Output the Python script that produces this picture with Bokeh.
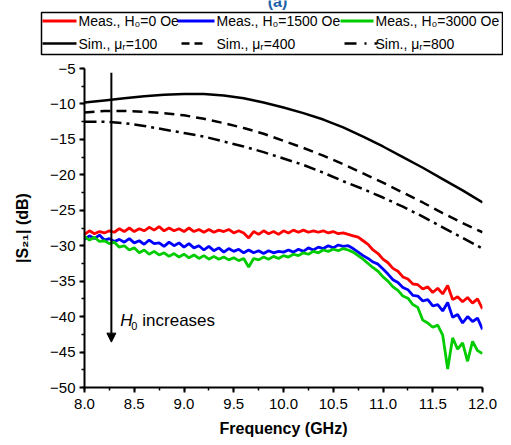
import numpy as np
from bokeh.plotting import figure
from bokeh.layouts import column
from bokeh.core.properties import value
from bokeh.models import (Range1d, SingleIntervalTicker, NumeralTickFormatter,
                          Arrow, NormalHead, Label)
from bokeh.embed import file_html
from bokeh.resources import INLINE

# ---------------- data ----------------
freq_meas = np.round(np.arange(8.0, 12.0001, 0.05), 2)
meas_0 = [-28.4, -27.9, -28.3, -28.0, -28.2, -27.9, -28.1, -27.6, -28.0, -27.5,
          -28.0, -27.6, -27.9, -27.4, -27.8, -27.3, -27.9, -27.5, -27.9, -27.6,
          -28.0, -27.5, -28.0, -27.7, -28.1, -27.7, -28.1, -27.8, -28.0, -27.7,
          -28.2, -27.9, -28.2, -28.9, -28.0, -28.4, -27.9, -28.3, -28.0, -28.4,
          -27.9, -28.2, -27.8, -28.1, -27.8, -28.1, -27.9, -28.1, -27.9, -28.2,
          -28.0, -28.3, -28.2, -28.4, -28.6, -28.8, -29.3, -29.8, -30.6, -31.1,
          -31.9, -32.4, -33.2, -33.6, -34.4, -34.7, -35.4, -35.5, -36.1, -35.8,
          -36.6, -36.0, -36.8, -35.6, -37.6, -37.2, -37.9, -37.3, -38.1, -37.5,
          -38.9]
meas_1500 = [-29.1, -28.6, -29.0, -28.5, -29.2, -29.0, -29.4, -29.1, -29.5, -29.0,
             -29.6, -29.3, -29.8, -29.2, -29.7, -29.6, -30.1, -29.5, -30.0, -29.6,
             -30.2, -29.7, -30.3, -30.0, -30.6, -30.1, -30.7, -30.3, -30.9, -30.4,
             -30.8, -30.5, -31.0, -30.6, -31.0, -30.7, -31.1, -30.7, -31.0, -30.8,
             -30.9, -30.6, -30.9, -30.5, -30.8, -30.3, -30.6, -30.2, -30.4, -30.0,
             -30.3, -29.9, -30.1, -30.0, -30.4, -30.9, -31.4, -31.8, -32.3, -32.6,
             -33.3, -34.0, -34.8, -35.2, -35.9, -36.2, -37.0, -37.1, -37.8, -37.6,
             -38.5, -38.3, -39.2, -38.0, -40.1, -39.7, -40.9, -40.0, -40.7, -40.2,
             -41.8]
meas_3000 = [-28.7, -29.2, -28.8, -29.4, -29.3, -29.7, -29.5, -30.2, -30.0, -30.6,
             -30.3, -31.0, -30.6, -31.2, -30.8, -31.3, -31.0, -31.5, -31.1, -31.6,
             -31.2, -31.7, -31.3, -31.8, -31.4, -31.9, -31.5, -31.9, -31.6, -32.0,
             -31.7, -32.1, -31.8, -33.0, -31.8, -32.0, -31.6, -31.9, -31.5, -31.8,
             -31.4, -31.6, -31.2, -31.4, -31.0, -31.2, -30.8, -31.0, -30.6, -30.8,
             -30.5, -30.7, -30.4, -30.6, -30.9, -31.4, -31.9, -32.5, -33.1, -33.6,
             -34.4, -35.0, -35.8, -36.3, -37.1, -37.4, -38.3, -38.7, -40.5, -40.9,
             -41.5, -41.2, -42.6, -47.4, -43.0, -44.6, -43.7, -46.3, -43.5, -44.8,
             -45.2]

freq_sim = np.round(np.arange(8.0, 12.0001, 0.2), 1)
sim_100 = [-9.8, -9.5, -9.2, -8.9, -8.7, -8.6, -8.6, -8.8, -9.2, -9.8,
           -10.5, -11.3, -12.2, -13.3, -14.6, -16.0, -17.5, -19.0, -20.6, -22.2,
           -23.9]
sim_400 = [-11.2, -11.0, -11.0, -11.1, -11.3, -11.6, -12.1, -12.7, -13.4, -14.2,
           -15.2, -16.2, -17.3, -18.5, -19.8, -21.1, -22.5, -23.9, -25.4, -26.8,
           -28.1]
sim_800 = [-12.5, -12.5, -12.7, -13.1, -13.6, -14.1, -14.6, -15.3, -16.0, -16.8,
           -17.7, -18.6, -19.7, -20.9, -22.0, -23.2, -24.5, -25.9, -27.4, -28.9,
           -30.4]

labels_meas = ["Meas., H\u2080=0 Oe", "Meas., H\u2080=1500 Oe", "Meas., H\u2080=3000 Oe"]
labels_sim = ["Sim., \u03bc\u1d63=100", "Sim., \u03bc\u1d63=400", "Sim., \u03bc\u1d63=800"]
panel_title = "(a)"

FONT = "Liberation Sans"
colors = ["#ff0000", "#0000ff", "#00cc00", "black", "black", "black"]
widths = [2.8, 2.8, 2.8, 2.5, 2.5, 2.5]
dashes = ["solid", "solid", "solid", "solid", "10 6", "12 5 3 5"]

# ---------------- main plot ----------------
p = figure(width=503, height=381, output_backend="svg", toolbar_location=None,
           x_range=Range1d(8.0, 12.0), y_range=Range1d(-50, -5),
           min_border_left=84, min_border_right=21, min_border_top=10,
           min_border_bottom=52)
p.frame_align = False
p.outline_line_color = None
p.grid.visible = False
p.background_fill_color = "white"
p.border_fill_color = "white"

series = [(freq_meas, meas_0), (freq_meas, meas_1500), (freq_meas, meas_3000),
          (freq_sim, sim_100), (freq_sim, sim_400), (freq_sim, sim_800)]
for (xs, ys), c, w, d in zip(series, colors, widths, dashes):
    p.line(xs, ys, line_color=c, line_width=w, line_dash=d)

p.xaxis.ticker = SingleIntervalTicker(interval=0.5, num_minor_ticks=2)
p.yaxis.ticker = SingleIntervalTicker(interval=5, num_minor_ticks=2)
p.xaxis.formatter = NumeralTickFormatter(format="0.0")
for ax in (p.xaxis[0], p.yaxis[0]):
    ax.axis_line_width = 2
    ax.major_tick_line_width = 2
    ax.minor_tick_line_width = 1.5
    ax.major_tick_out = 5
    ax.major_tick_in = 0
    ax.minor_tick_out = 3
    ax.minor_tick_in = 0
    ax.major_label_text_font = FONT
    ax.major_label_text_font_size = "15px"
    ax.major_label_text_color = "black"
    ax.axis_label_text_font = FONT
    ax.axis_label_text_font_size = "16px"
    ax.axis_label_text_font_style = "bold"
    ax.axis_label_text_color = "black"
p.xaxis.axis_label = "Frequency (GHz)"
p.yaxis.axis_label = "|S\u2082\u2081| (dB)"
p.xaxis.major_label_standoff = 6
p.yaxis.major_label_standoff = 4
p.xaxis.axis_label_standoff = 8
p.yaxis.axis_label_standoff = 16

p.add_layout(Arrow(x_start=8.27, y_start=-5.6, x_end=8.27, y_end=-43.6,
                   line_color="black", line_width=2,
                   end=NormalHead(size=9, fill_color="black", line_color="black")))
p.add_layout(Label(x=8.36, y=-40.5, text="H", text_font=FONT, text_font_size="17px",
                   text_font_style="italic", text_baseline="middle", text_color="black"))
p.add_layout(Label(x=8.36, y=-40.5, x_offset=11, y_offset=-6, text="0", text_font=FONT,
                   text_font_size="11px", text_baseline="middle", text_color="black"))
p.add_layout(Label(x=8.36, y=-40.5, x_offset=22, text="increases", text_font=FONT,
                   text_font_size="17px", text_baseline="middle", text_color="black"))

# ---------------- legend strip (pixel coordinates, y downward) ----------------
SW, SH = 503, 58
pl = figure(width=SW, height=SH, output_backend="svg", toolbar_location=None,
            x_range=Range1d(0, SW), y_range=Range1d(SH, 0),
            min_border_left=0, min_border_right=0, min_border_top=0, min_border_bottom=0)
pl.frame_align = False
pl.axis.visible = False
pl.grid.visible = False
pl.outline_line_color = None
pl.border_fill_color = "white"
pl.background_fill_color = "white"

pl.text(x=[277], y=[0.5], text=[panel_title], text_font=value(FONT),
        text_font_size="16px", text_font_style="bold", text_color="#1f5fa8",
        text_align="center", text_baseline="alphabetic")

pl.quad(left=[41], right=[502], top=[12], bottom=[54], fill_color="white",
        line_color="black", line_width=1.5)

row_y = [20.5, 43]
leg_x0 = [42, 177, 340, 42, 181, 344]
leg_x1 = [76, 214, 373, 76, 202, 377]
leg_dash = ["solid", "solid", "solid", "solid", "8 5", "12 8 2 8"]
leg_y = [row_y[0]] * 3 + [row_y[1]] * 3
for i in range(6):
    pl.line([leg_x0[i], leg_x1[i]], [leg_y[i], leg_y[i]], line_color=colors[i],
            line_width=3 if i < 3 else 2.5, line_dash=leg_dash[i])
label_x = [78, 216, 375, 78, 216, 375]
pl.text(x=label_x, y=leg_y, text=labels_meas + labels_sim, text_font=value(FONT),
        text_font_size="14px", text_color="black", text_baseline="middle")

layout = column(pl, p, spacing=0)
open("out.html", "w").write(file_html(layout, INLINE))
